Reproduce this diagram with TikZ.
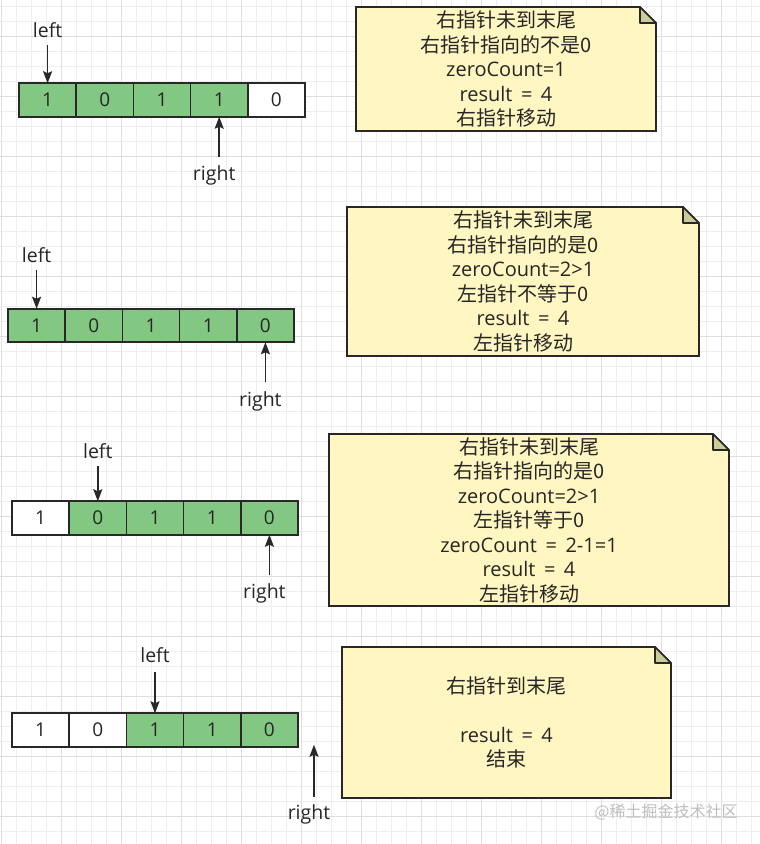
\documentclass[tikz,border=0pt]{standalone}
\usepackage{fontspec}
\setmainfont{Noto Sans CJK SC}
\newfontfamily\latin{Open Sans}
\usetikzlibrary{arrows.meta,positioning}
\definecolor{cellgreen}{RGB}{130,199,130}
\definecolor{noteyellow}{RGB}{255,246,193}
\definecolor{notefold}{RGB}{204,204,153}
\definecolor{inkgray}{RGB}{40,40,40}
\definecolor{textgray}{RGB}{38,38,38}
\definecolor{gridminor}{RGB}{238,238,238}
\definecolor{gridmajor}{RGB}{222,222,222}
\definecolor{markgray}{RGB}{190,190,190}

\tikzset{
    cell/.style={draw=inkgray, line width=1.6pt, minimum width=57.2pt, minimum height=33.5pt,
        inner sep=0pt, outer sep=0pt, text=textgray, font=\latin\fontsize{19}{19}\selectfont},
    cellon/.style={cell, fill=cellgreen},
    celloff/.style={cell, fill=white},
    ptr/.style={-{Stealth[length=12pt,width=9pt,inset=2pt]}, line width=1.6pt, draw=inkgray},
    ptrlabel/.style={inner sep=0pt, text=textgray, font=\latin\fontsize{19.5}{19.5}\selectfont},
    notebox/.style={inner sep=0pt, outer sep=0pt},
    noteedge/.style={draw=inkgray, line width=1.6pt, fill=noteyellow},
    notecorner/.style={draw=inkgray, line width=1.6pt, fill=notefold, line join=round},
    notetext/.style={align=center, inner sep=0pt, text=textgray, font=\fontsize{20}{24.5}\selectfont},
}

\begin{document}
\begin{tikzpicture}[x=1pt, y=-1pt]
    \useasboundingbox (0,0) rectangle (760,844);
    \fill[white] (0,0) rectangle (760,844);
    % Background grid.
    \foreach \gx in {1.7,16.7,...,760} \draw[gridminor, line width=0.8pt] (\gx,0) -- (\gx,844);
    \foreach \gy in {6,21,...,844} \draw[gridminor, line width=0.8pt] (0,\gy) -- (760,\gy);
    \foreach \gx in {1.7,61.7,...,760} \draw[gridmajor, line width=1pt] (\gx,0) -- (\gx,844);
    \foreach \gy in {36,96,...,844} \draw[gridmajor, line width=1pt] (0,\gy) -- (760,\gy);

    % Arrays, one per step.
    \foreach \v/\s [count=\i] in {1/cellon,0/cellon,1/cellon,1/cellon,0/celloff}
        \node[\s] (r1c\i) at ({19+57.2*(\i-0.5)}, 100) {\v};
    \foreach \v/\s [count=\i] in {1/cellon,0/cellon,1/cellon,1/cellon,0/cellon}
        \node[\s] (r2c\i) at ({8+57.2*(\i-0.5)}, 325.5) {\v};
    \foreach \v/\s [count=\i] in {1/celloff,0/cellon,1/cellon,1/cellon,0/cellon}
        \node[\s] (r3c\i) at ({12+57.2*(\i-0.5)}, 518) {\v};
    \foreach \v/\s [count=\i] in {1/celloff,0/celloff,1/cellon,1/cellon,0/cellon}
        \node[\s] (r4c\i) at ({12+57.2*(\i-0.5)}, 730) {\v};

    % Pointers.
    \coordinate (lp1) at ([yshift=38pt]r1c1.north);
    \draw[ptr] (lp1) -- (r1c1.north);
    \node[ptrlabel] (left1) at ([yshift=15pt]lp1) {left};
    \coordinate (rp1) at ([yshift=-40pt]r1c4.south);
    \draw[ptr] (rp1) -- (r1c4.south);
    \node[ptrlabel] (right1) at ([xshift=-5pt,yshift=-19pt]rp1) {right};

    \coordinate (lp2) at ([yshift=39pt]r2c1.north);
    \draw[ptr] (lp2) -- (r2c1.north);
    \node[ptrlabel] (left2) at ([yshift=15pt]lp2) {left};
    \coordinate (rp2) at ([yshift=-40pt]r2c5.south);
    \draw[ptr] (rp2) -- (r2c5.south);
    \node[ptrlabel] (right2) at ([xshift=-5pt,yshift=-19pt]rp2) {right};

    \coordinate (lp3) at ([yshift=35pt]r3c2.north);
    \draw[ptr] (lp3) -- (r3c2.north);
    \node[ptrlabel] (left3) at ([yshift=15pt]lp3) {left};
    \coordinate (rp3) at ([yshift=-40pt]r3c5.south);
    \draw[ptr] (rp3) -- (r3c5.south);
    \node[ptrlabel] (right3) at ([xshift=-5pt,yshift=-19pt]rp3) {right};

    \coordinate (lp4) at ([yshift=41pt]r4c3.north);
    \draw[ptr] (lp4) -- (r4c3.north);
    \node[ptrlabel] (left4) at ([yshift=17pt]lp4) {left};
    \coordinate (rp4) at ([xshift=16pt,yshift=-50pt]r4c5.south east);
    \coordinate (rt4) at ([xshift=16pt,yshift=2pt]r4c5.south east);
    \draw[ptr] (rp4) -- (rt4);
    \node[ptrlabel] (right4) at ([xshift=-5pt,yshift=-18pt]rp4) {right};

    % Notes.
    \node[notebox, minimum width=300pt, minimum height=124pt] (note1) at (506,69) {};
    \node[notebox, minimum width=352pt, minimum height=149pt] (note2) at (523,281.5) {};
    \node[notebox, minimum width=400pt, minimum height=172pt] (note3) at (529,520) {};
    \node[notebox, minimum width=329pt, minimum height=151pt] (note4) at (506.5,722.5) {};
    \foreach \n in {note1,note2,note3,note4} {
        \draw[noteedge] (\n.south west) -- (\n.north west) -- ([xshift=-16pt]\n.north east)
            -- ([yshift=-16pt]\n.north east) -- (\n.south east) -- cycle;
        \draw[notecorner] ([xshift=-16pt]\n.north east) -- ([xshift=-16pt,yshift=-16pt]\n.north east)
            -- ([yshift=-16pt]\n.north east) -- cycle;
    }
    \node[notetext] (text1) at (note1) {右指针未到末尾\\右指针指向的不是0\\{\latin zeroCount=1}\\{\latin result\,{} = \,4}\\右指针移动};
    \node[notetext] (text2) at (note2) {右指针未到末尾\\右指针指向的是0\\{\latin zeroCount=2>1}\\左指针不等于0\\{\latin result\,{} = \,4}\\左指针移动};
    \node[notetext] (text3) at (note3) {右指针未到末尾\\右指针指向的是0\\{\latin zeroCount=2>1}\\左指针等于0\\{\latin zeroCount\,{} = \,2-1=1}\\{\latin result\,{} = \,4}\\左指针移动};
    \node[notetext] (text4) at (note4) {右指针到末尾\\[24.5pt]{\latin result\,{} = \,4}\\结束};

    \node[text=markgray, font=\fontsize{16}{16}\selectfont] (mark) at (666,812) {@稀土掘金技术社区};
\end{tikzpicture}
\end{document}
